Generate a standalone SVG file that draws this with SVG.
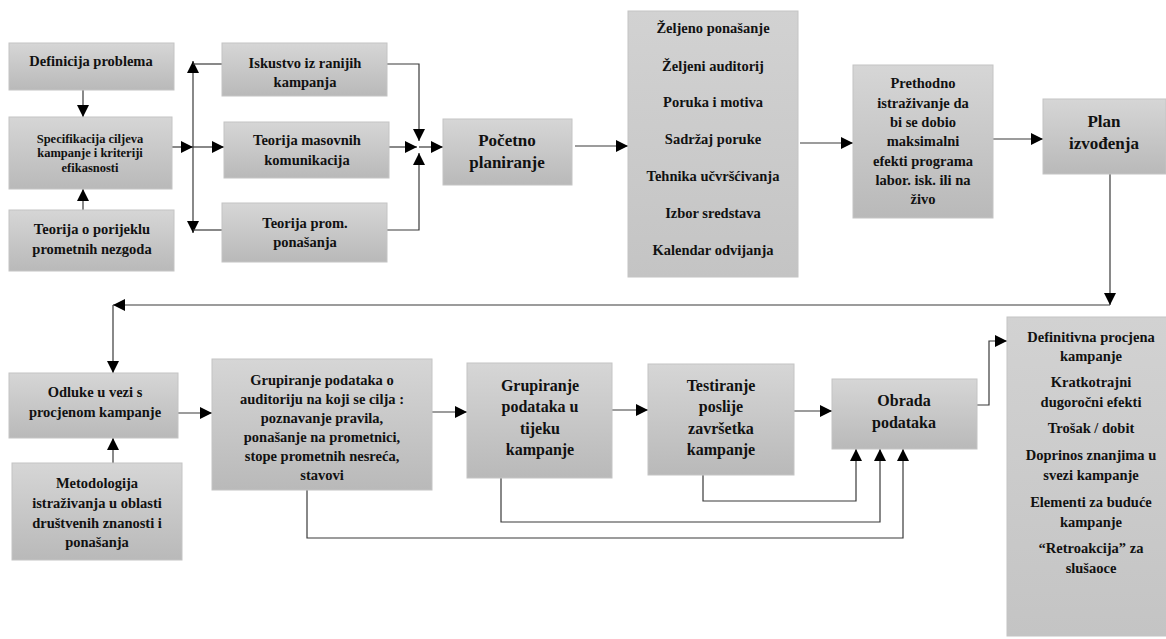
<svg xmlns="http://www.w3.org/2000/svg" width="1166" height="639" viewBox="0 0 1166 639" font-family="'Liberation Serif', 'Times New Roman', Tinos, 'DejaVu Serif', serif">
<defs>
<linearGradient id="g" x1="0" y1="0" x2="0" y2="1">
<stop offset="0" stop-color="#d6d6d6"/>
<stop offset="1" stop-color="#b9b9b9"/>
</linearGradient>
<linearGradient id="gt" x1="0" y1="0" x2="0" y2="1">
<stop offset="0" stop-color="#d2d2d2"/>
<stop offset="1" stop-color="#c4c4c4"/>
</linearGradient>
<marker id="a" markerUnits="userSpaceOnUse" markerWidth="12" markerHeight="12" refX="12" refY="6" orient="auto">
<path d="M0,0 L12,6 L0,12 z" fill="#000"/>
</marker>
</defs>
<style>
.b{fill:url(#g);stroke:#c4c4c4;stroke-width:1}
.bt{fill:url(#gt);stroke:#c4c4c4;stroke-width:1}
text{font-weight:bold;fill:#111;text-anchor:middle;font-size:14.5px}
.s{font-size:12.5px}
.l{font-size:17px}
.m{font-size:16px}
.c{fill:none;stroke:#3a3a3a;stroke-width:1.2}
</style>
<rect width="1166" height="639" fill="#fff"/>
<g id="connectors" class="c">
<path class="c" d="M83,90 V117" marker-end="url(#a)"/>
<path class="c" d="M83,210 V189" marker-end="url(#a)"/>
<path class="c" d="M172,147 H193" marker-end="url(#a)"/>
<path class="c" d="M193,147 H224" marker-end="url(#a)"/>
<path class="c" d="M193,147 V61" marker-end="url(#a)"/>
<path class="c" d="M222,64 H193"/>
<path class="c" d="M193,147 V233" marker-end="url(#a)"/>
<path class="c" d="M222,230 H193"/>
<path class="c" d="M387,64 H419 V141" marker-end="url(#a)"/>
<path class="c" d="M389,147 H417" marker-end="url(#a)"/>
<path class="c" d="M387,230 H419 V153" marker-end="url(#a)"/>
<path class="c" d="M419,147 H443" marker-end="url(#a)"/>
<path class="c" d="M575,146 H628" marker-end="url(#a)"/>
<path class="c" d="M800,143 H853" marker-end="url(#a)"/>
<path class="c" d="M993,139 H1043" marker-end="url(#a)"/>
<path class="c" d="M1110,174 V305" marker-end="url(#a)"/>
<path class="c" d="M1110,305 H113" marker-end="url(#a)"/>
<path class="c" d="M113,305 V373" marker-end="url(#a)"/>
<path class="c" d="M113,463 V438" marker-end="url(#a)"/>
<path class="c" d="M178,413 H212" marker-end="url(#a)"/>
<path class="c" d="M432,412 H467" marker-end="url(#a)"/>
<path class="c" d="M612,410 H648" marker-end="url(#a)"/>
<path class="c" d="M794,411 H832" marker-end="url(#a)"/>
<path class="c" d="M977,405 H989 V341 H1007" marker-end="url(#a)"/>
<path class="c" d="M703,475 V501 H856 V449" marker-end="url(#a)"/>
<path class="c" d="M501,478 V522 H880 V449" marker-end="url(#a)"/>
<path class="c" d="M307,490 V538 H903 V449" marker-end="url(#a)"/>
</g>
<g id="n-definicija"><rect class="b" x="9" y="43" width="165" height="47"/><text x="91" y="66">Definicija problema</text></g>
<g id="n-specifikacija"><rect class="b" x="9" y="117" width="163" height="72"/><text class="s" x="90" y="142.5">Specifikacija ciljeva</text><text class="s" x="90" y="157">kampanje i kriteriji</text><text class="s" x="90" y="171.5">efikasnosti</text></g>
<g id="n-teorija-porijeklo"><rect class="b" x="9" y="210" width="165" height="61"/><text x="92" y="234">Teorija o porijeklu</text><text x="92" y="254">prometnih nezgoda</text></g>
<g id="n-iskustvo"><rect class="b" x="222" y="43" width="165" height="53"/><text x="305" y="68">Iskustvo iz ranijih</text><text x="305" y="87">kampanja</text></g>
<g id="n-masovne"><rect class="b" x="224" y="122" width="165" height="56"/><text x="307" y="145">Teorija masovnih</text><text x="307" y="165">komunikacija</text></g>
<g id="n-prom"><rect class="b" x="222" y="203" width="165" height="59"/><text x="305" y="228">Teorija prom.</text><text x="305" y="247">ponašanja</text></g>
<g id="n-pocetno"><rect class="b" x="443" y="119" width="129" height="66"/><text class="l" x="507" y="146">Početno</text><text class="l" x="507" y="168">planiranje</text></g>
<g id="n-lista"><rect class="bt" x="628" y="11" width="170" height="266"/>
<text x="713" y="33">Željeno ponašanje</text>
<text x="713" y="71">Željeni auditorij</text>
<text x="713" y="107">Poruka i motiva</text>
<text x="713" y="144">Sadržaj poruke</text>
<text x="713" y="181">Tehnika učvršćivanja</text>
<text x="713" y="218">Izbor sredstava</text>
<text x="713" y="255">Kalendar odvijanja</text></g>
<g id="n-prethodno"><rect class="b" x="853" y="65" width="140" height="153"/>
<text x="923" y="88">Prethodno</text>
<text x="923" y="107.5">istraživanje da</text>
<text x="923" y="127">bi se dobio</text>
<text x="923" y="146">maksimalni</text>
<text x="923" y="165.5">efekti programa</text>
<text x="923" y="185">labor. isk. ili na</text>
<text x="923" y="204">živo</text></g>
<g id="n-plan"><rect class="b" x="1043" y="99" width="123" height="75"/><text class="l" x="1104" y="127">Plan</text><text class="l" x="1104" y="149">izvođenja</text></g>
<g id="n-odluke"><rect class="b" x="9" y="373" width="169" height="65"/><text x="95" y="397">Odluke u vezi s</text><text x="95" y="417">procjenom kampanje</text></g>
<g id="n-metodologija"><rect class="b" x="12" y="463" width="170" height="97"/>
<text x="97" y="488">Metodologija</text>
<text x="97" y="508">istraživanja u oblasti</text>
<text x="97" y="527.5">društvenih znanosti i</text>
<text x="97" y="546.5">ponašanja</text></g>
<g id="n-auditorij"><rect class="b" x="212" y="359" width="220" height="131"/>
<text x="322" y="385">Grupiranje podataka o</text>
<text x="322" y="404">auditoriju na koji se cilja :</text>
<text x="322" y="423">poznavanje pravila,</text>
<text x="322" y="442">ponašanje na prometnici,</text>
<text x="322" y="461">stope prometnih nesreća,</text>
<text x="322" y="480">stavovi</text></g>
<g id="n-tijek"><rect class="b" x="467" y="363" width="145" height="115"/>
<text class="m" x="540" y="391">Grupiranje</text>
<text class="m" x="540" y="412">podataka u</text>
<text class="m" x="540" y="434">tijeku</text>
<text class="m" x="540" y="455">kampanje</text></g>
<g id="n-testiranje"><rect class="b" x="648" y="364" width="146" height="111"/>
<text class="m" x="721" y="391">Testiranje</text>
<text class="m" x="721" y="412">poslije</text>
<text class="m" x="721" y="434">završetka</text>
<text class="m" x="721" y="455">kampanje</text></g>
<g id="n-obrada"><rect class="b" x="832" y="379" width="145" height="70"/><text class="m" x="904" y="405.5">Obrada</text><text class="m" x="904" y="427.5">podataka</text></g>
<g id="n-procjena"><rect class="bt" x="1007" y="317" width="170" height="319"/>
<text x="1091" y="342">Definitivna procjena</text>
<text x="1091" y="361">kampanje</text>
<text x="1091" y="387">Kratkotrajni</text>
<text x="1091" y="407">dugoročni efekti</text>
<text x="1091" y="433">Trošak / dobit</text>
<text x="1091" y="460">Doprinos znanjima u</text>
<text x="1091" y="480">svezi kampanje</text>
<text x="1091" y="507">Elementi za buduće</text>
<text x="1091" y="527">kampanje</text>
<text x="1091" y="553">“Retroakcija” za</text>
<text x="1091" y="573">slušaoce</text></g>
</svg>
